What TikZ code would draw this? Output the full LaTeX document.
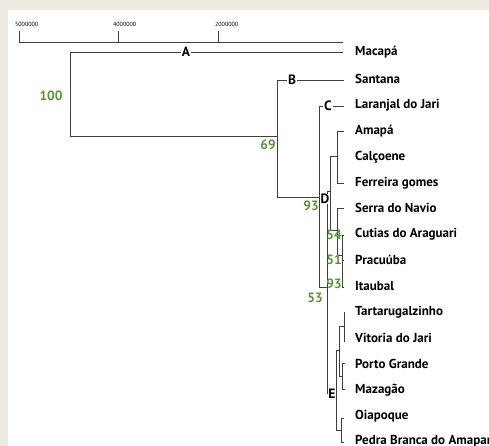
\documentclass[tikz,border=0pt]{standalone}
\usepackage{fontspec}
\setmainfont{PT Sans}
\definecolor{bgbeige}{RGB}{238,234,224}
\definecolor{lngray}{RGB}{62,62,62}
\definecolor{bootgreen}{RGB}{88,150,58}
\begin{document}
\begin{tikzpicture}[x=1pt,y=-1pt,
  br/.style={draw=lngray,line width=0.9pt},
  leaf/.style={anchor=west,inner sep=0pt,font=\bfseries\fontsize{13}{15}\selectfont},
  boot/.style={text=bootgreen,inner sep=0pt,font=\bfseries\fontsize{13.5}{15}\selectfont},
  clade/.style={fill=white,inner sep=1pt,font=\bfseries\fontsize{13.5}{15}\selectfont},
  axlab/.style={anchor=west,inner sep=0pt,font=\fontsize{6}{7}\selectfont}]
\useasboundingbox (0,0) rectangle (489,446);
\fill[bgbeige] (0,0) rectangle (489,446);
\fill[white] (8,10) rectangle (489,446);
% axis
\coordinate (ax0) at (19,42);
\coordinate (ax1) at (118,42);
\coordinate (ax2) at (218,42);
\coordinate (ax3) at (343,42);
\coordinate (tk0) at (19,31);
\coordinate (tk1) at (118,31);
\coordinate (tk2) at (218,31);
\draw[br] (tk0) -- (ax0) -- (ax3);
\draw[br] (tk1) -- (ax1);
\draw[br] (tk2) -- (ax2);
\node[axlab] (l0) at (15,24) {5000000};
\node[axlab] (l1) at (113,24) {4000000};
\node[axlab] (l2) at (215,24) {2000000};
% leaves
\node[leaf] (macapa) at (355,52) {Macapá};
\node[leaf] (santana) at (355,79) {Santana};
\node[leaf] (laranjal) at (355,105) {Laranjal do Jari};
\node[leaf] (amapa) at (355,131) {Amapá};
\node[leaf] (calcoene) at (355,157) {Calçoene};
\node[leaf] (ferreira) at (355,183) {Ferreira gomes};
\node[leaf] (serra) at (355,208) {Serra do Navio};
\node[leaf] (cutias) at (355,234) {Cutias do Araguari};
\node[leaf] (pracuuba) at (355,260) {Pracuúba};
\node[leaf] (itaubal) at (355,286) {Itaubal};
\node[leaf] (tarta) at (355,312) {Tartarugalzinho};
\node[leaf] (vitoria) at (355,338) {Vitoria do Jari};
\node[leaf] (porto) at (355,364) {Porto Grande};
\node[leaf] (mazagao) at (355,390) {Mazagão};
\node[leaf] (oiapoque) at (355,416) {Oiapoque};
\node[leaf] (pedra) at (355,441) {Pedra Branca do Amapari};
% branch coordinates
\coordinate (rT) at (70,52);
\coordinate (rB) at (70,136);
\coordinate (eMac) at (343,52);
\coordinate (bT) at (277,80);
\coordinate (bB) at (277,197);
\coordinate (eSan) at (344,80);
\coordinate (cT) at (319,106);
\coordinate (cB) at (319,287);
\coordinate (eLar) at (344,106);
\coordinate (deT) at (327,191);
\coordinate (deB) at (327,393);
\coordinate (d1T) at (330,156);
\coordinate (d1B) at (330,230);
\coordinate (amT) at (337,131);
\coordinate (amB) at (337,183);
\coordinate (eAma) at (344,131);
\coordinate (eFer) at (344,183);
\coordinate (snT) at (337,208);
\coordinate (snB) at (337,255);
\coordinate (eSer) at (344,208);
\coordinate (ciT) at (342,235);
\coordinate (ciB) at (342,287);
\coordinate (eCut) at (344,235);
\coordinate (ePra) at (344,260);
\coordinate (eIta) at (344,287);
\coordinate (e1T) at (336,350);
\coordinate (e1B) at (336,430);
\coordinate (e2T) at (339,326);
\coordinate (e2B) at (339,376);
\coordinate (tvT) at (344,312);
\coordinate (tvB) at (344,342);
\coordinate (pmT) at (342,363);
\coordinate (pmB) at (342,389);
\coordinate (ePor) at (345,363);
\coordinate (eMaz) at (345,389);
\coordinate (opT) at (341,418);
\coordinate (opB) at (341,442);
\coordinate (eOia) at (344,418);
\coordinate (ePed) at (344,442);
% root
\draw[br] (eMac) -- (rT) -- (rB) -- (rB -| bT);
\node[clade] (A) at (186,52) {A};
% B
\draw[br] (eSan) -- (bT) -- (bB) -- (bB -| cT);
\node[clade] (B) at (292,80) {B};
% C
\draw[br] (eLar) -- (cT) -- (cB) -- (cB -| deT);
\node[clade] (C) at (328,106) {C};
% D-E spine
\draw[br] (d1T |- deT) -- (deT) -- (deB) -- (e1T |- deB);
% D cluster
\draw[br] (amT |- d1T) -- (d1T) -- (d1B) -- (snT |- d1B);
\draw[br] (eAma) -- (amT) -- (amB) -- (eFer);
\draw[br] (eSer) -- (snT) -- (snB) -- (ciT |- snB);
\draw[br] (eCut) -- (ciT) -- (ciB) -- (eIta);
\draw[br] (pracuuba.west -| ciT) -- (ePra);
% E cluster
\draw[br] (e2T |- e1T) -- (e1T) -- (e1B) -- (opT |- e1B);
\draw[br] (tvT |- e2T) -- (e2T) -- (e2B) -- (pmT |- e2B);
\draw[br] (tvT) -- (tvB);
\draw[br] (ePor) -- (pmT) -- (pmB) -- (eMaz);
\draw[br] (eOia) -- (opT) -- (opB) -- (ePed);
\node[clade,inner sep=0.5pt] (D) at (325,199) {D};
\node[clade,inner sep=0.5pt] (E) at (332,394) {E};
% bootstrap values
\node[boot] (b100) at (51,96) {100};
\node[boot] (b69) at (268,145) {69};
\node[boot] (b93a) at (311,206) {93};
\node[boot] (b54) at (334,235) {54};
\node[boot] (b51) at (334,260) {51};
\node[boot] (b93b) at (334,284) {93};
\node[boot] (b53) at (315,298) {53};
\end{tikzpicture}
\end{document}
